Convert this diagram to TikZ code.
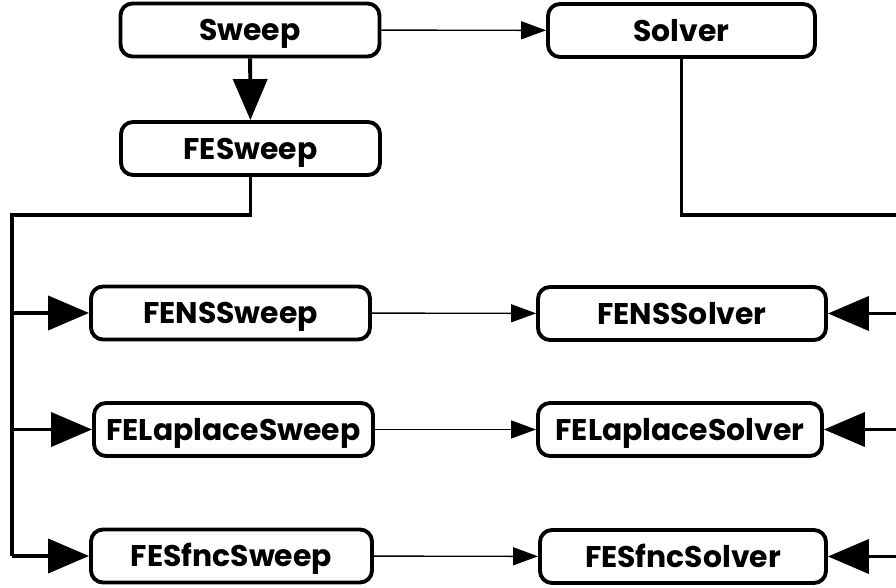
\documentclass[tikz,border=0pt]{standalone}
\usepackage{fontspec}
\setmainfont{Poppins}
\usetikzlibrary{arrows.meta, positioning}

\tikzset{
  classbox/.style={draw, line width=2.2pt, rounded corners=0.24cm, minimum height=1.06cm,
    inner sep=0pt, text height=12pt, text depth=0pt,
    font=\fontsize{17}{19}\selectfont\bfseries},
  thinarrow/.style={-{Triangle[length=0.5cm, width=0.36cm]}, line width=0.8pt},
  thickarrow/.style={-{Triangle[length=0.82cm, width=0.68cm]}, line width=2.2pt},
  thickline/.style={line width=2.2pt}
}

\begin{document}
\begin{tikzpicture}
    \useasboundingbox (0, 0) rectangle (17.92, 11.76);

    % Base classes
    \node[classbox, minimum width=5.18cm] (sweep) at (5.0, 11.16) {Sweep};
    \node[classbox, minimum width=5.34cm] (solver) at (13.63, 11.15) {Solver};
    \node[classbox, minimum width=5.18cm] (fesweep) at (5.01, 8.79) {FESweep};

    % Derived sweeps
    \node[classbox, minimum width=5.58cm] (fenssweep) at (4.61, 5.50) {FENSSweep};
    \node[classbox, minimum width=5.58cm] (lapsweep) at (4.67, 3.17) {FELaplaceSweep};
    \node[classbox, minimum width=5.62cm] (sfncsweep) at (4.63, 0.64) {FESfncSweep};

    % Derived solvers
    \node[classbox, minimum width=5.76cm] (fenssolver) at (13.64, 5.49) {FENSSolver};
    \node[classbox, minimum width=5.68cm] (lapsolver) at (13.60, 3.17) {FELaplaceSolver};
    \node[classbox, minimum width=5.72cm] (sfncsolver) at (13.66, 0.63) {FESfncSolver};

    % Bus corners
    \coordinate (lbus) at (0.24, 7.46);
    \coordinate (rbus) at (17.92, 7.46);

    % Sweep side
    \draw[thinarrow] (sweep) -- (solver);
    \draw[thickarrow] (sweep) -- (fesweep);
    \draw[thickline] (fesweep.south) |- (lbus) -- (lbus |- sfncsweep);
    \draw[thickarrow] (lbus |- fenssweep) -- (fenssweep);
    \draw[thickarrow] (lbus |- lapsweep) -- (lapsweep);
    \draw[thickarrow] (lbus |- sfncsweep) -- (sfncsweep);

    % Sweep to solver
    \draw[thinarrow] (fenssweep) -- (fenssolver);
    \draw[thinarrow] (lapsweep) -- (lapsolver);
    \draw[thinarrow] (sfncsweep) -- (sfncsolver);

    % Solver side
    \draw[thickline] (solver.south) |- (rbus);
    \draw[thickarrow] (rbus |- fenssolver) -- (fenssolver);
    \draw[thickarrow] (rbus |- lapsolver) -- (lapsolver);
    \draw[thickarrow] (rbus |- sfncsolver) -- (sfncsolver);
\end{tikzpicture}
\end{document}
